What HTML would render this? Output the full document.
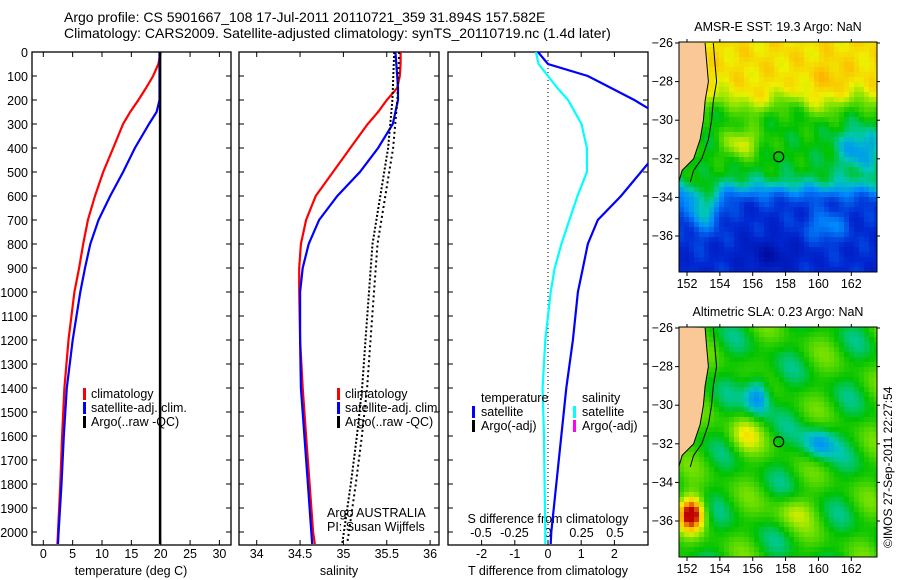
<!DOCTYPE html>
<html><head><meta charset="utf-8">
<style>
html,body{margin:0;padding:0;background:#fff;}
svg{display:block;font-family:"Liberation Sans",sans-serif;}
text{font-size:12.5px;fill:#000;}
</style></head>
<body>
<svg id="fig" width="900" height="580" viewBox="0 0 900 580">
<text x="64" y="22" style="font-size:14px">Argo profile: CS 5901667_108 17-Jul-2011 20110721_359 31.894S 157.582E</text>
<text x="64" y="38" style="font-size:14px">Climatology: CARS2009. Satellite-adjusted climatology: synTS_20110719.nc (1.4d later)</text>
<g id="p1"></g>
<g id="p2"></g>
<g id="p3"></g>
<g id="m1"></g>
<g id="m2"></g>
<text transform="translate(892,548) rotate(-90)" style="font-size:12px">©IMOS 27-Sep-2011 22:27:54</text>
</svg>
<script>
// ---- data ----
const depthTicks = [0,100,200,300,400,500,600,700,800,900,1000,1100,1200,1300,1400,1500,1600,1700,1800,1900,2000];
const tempTicks = [0,5,10,15,20,25,30];
const salTicks = [34,34.5,35,35.5,36];
const salTickLabels = ["34","34.5","35","35.5","36"];
const tdTicks = [-2,-1,0,1,2];
const sdTicks = [-0.5,-0.25,0,0.25,0.5];
const sdTickLabels = ["-0.5","-0.25","0","0.25","0.5"];
const climDepth = [0,50,100,150,200,250,300,400,500,600,700,800,900,1000,1200,1400,1600,1800,2000,2050];
const tempClim = [20,19.6,18.7,17.5,16.2,14.8,13.6,11.9,10.2,8.8,7.6,6.8,6.1,5.3,4.3,3.6,3.2,2.9,2.5,2.4];
const tempSat = [19.8,19.8,19.8,19.8,19.8,19.3,18,15.6,13.6,11.4,9.4,8,7.1,6.3,5,4,3.5,3.1,2.6,2.5];
const salClim = [35.66,35.66,35.65,35.62,35.5,35.4,35.28,35.08,34.88,34.68,34.57,34.51,34.49,34.49,34.5,34.53,34.57,34.61,34.65,34.67];
const salSat = [35.6,35.61,35.62,35.63,35.63,35.6,35.57,35.4,35.19,34.93,34.72,34.6,34.53,34.5,34.5,34.51,34.55,34.59,34.63,34.64];
const argoDepth = [0,200,400,600,800,1000,1200,1400,1600,1800,2000,2050];
const argoTemp = [19.9,19.9,19.9,19.9,19.9,19.9,19.9,19.9,19.9,19.9,19.9,19.9];
const argoSal = [35.62,35.6,35.55,35.46,35.37,35.33,35.29,35.25,35.19,35.12,35.04,35.02];
const tDiff = [-0.3,0.0,1.2,1.9,2.6,3.2,3.6,3.4,2.8,2.2,1.5,1.2,1.05,0.9,0.75,0.55,0.4,0.25,0.1,0.08];
const sDiff = [-0.09,-0.07,0.0,0.07,0.15,0.2,0.25,0.29,0.29,0.22,0.16,0.1,0.05,0.02,-0.02,-0.04,-0.03,-0.025,-0.02,-0.02];
const lonTicks = [152,154,156,158,160,162];
const latTicks = [-26,-28,-30,-32,-34,-36];

const NS="http://www.w3.org/2000/svg";
function mk(parent,tag,attrs){const e=document.createElementNS(NS,tag);for(const k in attrs)e.setAttribute(k,attrs[k]);parent.appendChild(e);return e;}
const yTop=52,yBot=545;
const yD=d=>yTop+d*0.24;
const xT=v=>43.3+v*5.87;
const xS=v=>256.7+(v-34)*86.7;
const xTd=v=>548+v*33.2;
const xSd=v=>548+v*134;

function frame(g,x0,x1){
  const r=mk(g,'rect',{x:x0,y:yTop,width:x1-x0,height:yBot-yTop,fill:'none',stroke:'#000','stroke-width':1.3});
  
  
  depthTicks.forEach(d=>{
    const y=yD(d);
    mk(g,'line',{x1:x0,x2:x0+5,y1:y,y2:y,stroke:'#000'});
    mk(g,'line',{x1:x1,x2:x1-5,y1:y,y2:y,stroke:'#000'});
  });
}
function line(g,xs,ys,color,w,name,dash){
  const pts=xs.map((x,i)=>x.toFixed(1)+','+ys[i].toFixed(1)).join(' ');
  const p=mk(g,'polyline',{points:pts,fill:'none',stroke:color,'stroke-width':w});
  if(dash)p.setAttribute('stroke-dasharray',dash);
  
  
  return p;
}
function txt(g,x,y,s,anchor,name,size){
  const t=mk(g,'text',{x:x,y:y,'text-anchor':anchor||'start'});
  if(size)t.style.fontSize=size+'px';
  t.textContent=s;
  
  
  return t;
}
function legendBar(g,x,y,color){mk(g,'rect',{x:x,y:y-10,width:3,height:12,fill:color});}

// Panel 1
const p1=document.getElementById('p1');
frame(p1,32,231);
depthTicks.forEach(d=>txt(p1,28,yD(d)+5,String(d),'end','depth-tick-label'));
tempTicks.forEach(v=>{const x=xT(v);mk(p1,'line',{x1:x,x2:x,y1:yBot,y2:yBot-5,stroke:'#000'});mk(p1,'line',{x1:x,x2:x,y1:yTop,y2:yTop+5,stroke:'#000'});txt(p1,x,558,String(v),'middle','temperature-tick-label');});
txt(p1,131,575,'temperature (deg C)','middle','temperature-axis-title');
line(p1,tempClim.map(xT),climDepth.map(yD),'#f00',2.2,'temperature-climatology-line');
line(p1,tempSat.map(xT),climDepth.map(yD),'#00f',2.2,'temperature-satellite-line');
line(p1,argoTemp.map(xT),argoDepth.map(yD),'#000',2.5,'temperature-argo-line');
[['#f00','climatology',398],['#00f','satellite-adj. clim.',412],['#000','Argo(..raw -QC)',426]].forEach(l=>{legendBar(p1,83,l[2],l[0]);txt(p1,91,l[2],l[1],'start','legend-entry');});

// Panel 2
const p2=document.getElementById('p2');
frame(p2,239,439);
salTicks.forEach((v,i)=>{const x=xS(v);mk(p2,'line',{x1:x,x2:x,y1:yBot,y2:yBot-5,stroke:'#000'});mk(p2,'line',{x1:x,x2:x,y1:yTop,y2:yTop+5,stroke:'#000'});txt(p2,x,558,salTickLabels[i],'middle','salinity-tick-label');});
txt(p2,339,575,'salinity','middle','salinity-axis-title');
line(p2,salClim.map(xS),climDepth.map(yD),'#f00',2.2,'salinity-climatology-line');
line(p2,salSat.map(xS),climDepth.map(yD),'#00f',2.2,'salinity-satellite-line');
line(p2,argoSal.map(v=>xS(v)-3),argoDepth.map(yD),'#000',2,'salinity-argo-line-a','2,2');
line(p2,argoSal.map(v=>xS(v)+2),argoDepth.map(yD),'#000',2,'salinity-argo-line-b','2,3');
[['#f00','climatology',398],['#00f','satellite-adj. clim.',412],['#000','Argo(..raw -QC)',426]].forEach(l=>{legendBar(p2,337,l[2],l[0]);txt(p2,345,l[2],l[1],'start','legend-entry');});
txt(p2,327,517,'Argo AUSTRALIA','start','institution-label');
txt(p2,327,531,'PI: Susan Wijffels','start','pi-label');

// Panel 3
const p3=document.getElementById('p3');
const cp=mk(document.getElementById('fig'),'clipPath',{id:'c3'});mk(cp,'rect',{x:448,y:yTop,width:200,height:yBot-yTop});
frame(p3,448,648);
mk(p3,'line',{x1:xTd(0),x2:xTd(0),y1:yTop,y2:yBot,stroke:'#000','stroke-dasharray':'1,3'});
tdTicks.forEach(v=>{const x=xTd(v);mk(p3,'line',{x1:x,x2:x,y1:yBot,y2:yBot-5,stroke:'#000'});mk(p3,'line',{x1:x,x2:x,y1:yTop,y2:yTop+5,stroke:'#000'});txt(p3,x,558,String(v),'middle','tdiff-tick-label');});
sdTicks.forEach((v,i)=>{txt(p3,xSd(v),537,sdTickLabels[i],'middle','sdiff-tick-label');});
txt(p3,548,523,'S difference from climatology','middle','sdiff-axis-title');
txt(p3,548,575,'T difference from climatology','middle','tdiff-axis-title');
const g3=mk(p3,'g',{'clip-path':'url(#c3)'});
line(g3,sDiff.map(xSd),climDepth.map(yD),'#0ff',2.2,'salinity-difference-line');
line(g3,tDiff.map(xTd),climDepth.map(yD),'#00f',2.2,'temperature-difference-line');
txt(p3,481,402,'temperature','start','legend-header-temperature');
txt(p3,582,402,'salinity','start','legend-header-salinity');
legendBar(p3,472,416,'#00f');txt(p3,481,416,'satellite','start','legend-entry');
legendBar(p3,472,430,'#000');txt(p3,481,430,'Argo(-adj)','start','legend-entry');
legendBar(p3,573,416,'#0ff');txt(p3,582,416,'satellite','start','legend-entry');
legendBar(p3,573,430,'#f0f');txt(p3,582,430,'Argo(-adj)','start','legend-entry');

// ---- maps ----
const stops=[[0,[0,0,140]],[0.2,[0,40,210]],[0.35,[0,140,255]],[0.45,[0,200,180]],[0.55,[0,195,0]],[0.67,[120,225,0]],[0.77,[240,240,0]],[0.88,[255,175,0]],[1,[190,0,0]]];
function cmap(v){v=Math.max(0,Math.min(1,v));for(let i=1;i<stops.length;i++){if(v<=stops[i][0]){const a=stops[i-1],b=stops[i],t=(v-a[0])/(b[0]-a[0]);return 'rgb('+a[1].map((c,k)=>Math.round(c+(b[1][k]-c)*t)).join(',')+')';}}return 'rgb(190,0,0)';}
const sig=(x)=>1/(1+Math.exp(-x));
const gau=(lon,lat,cx,cy,sx,sy)=>Math.exp(-((lon-cx)**2/sx+(lat-cy)**2/sy));
function sst(lon,lat){
  let v=0.2+0.35*sig((lat+33.6)*3)+0.25*sig((lat+29.2+0.3*Math.sin(lon*1.5))*3);
  v+=0.2*gau(lon,lat,155.3,-31.2,1.2,0.6);
  v-=0.18*gau(lon,lat,162.5,-31.5,2,1.2);
  v+=0.25*gau(lon,lat,153,-34.5,1,1.5);
  v+=0.15*gau(lon,lat,160.5,-35.5,1.5,0.6);
  v-=0.1*gau(lon,lat,157,-37,3,0.6);
  v+=0.05*gau(lon,lat,160.8,-27.8,1,0.6);
  v+=0.04*Math.sin(lon*3.1+lat*1.3)*Math.cos(lat*2.3-lon*0.7);
  return v;
}
function sla(lon,lat){
  let v=0.57+0.1*Math.sin(lon*1.3+lat*0.9)*Math.cos(lat*1.1-lon*0.4);
  v+=0.45*gau(lon,lat,152.3,-35.6,0.6,0.8);
  v-=0.25*gau(lon,lat,156.3,-29.5,0.6,1.2);
  v-=0.2*gau(lon,lat,160,-32,1,0.8);
  v+=0.15*gau(lon,lat,155.5,-31.5,1,1);
  v+=0.12*gau(lon,lat,158.5,-35.5,1.5,0.6);
  return v;
}
const coastLat=[-26,-27,-28,-29,-30,-31,-32,-32.6,-33.2];
const coastLon=[153.1,153.2,153.3,153.1,153.0,152.8,152.4,151.7,151.5];
function drawMap(id,y0,title,fn){
  const g=document.getElementById(id);
  const x0=679,w=198,h=230;
  const lonX=l=>687+(l-152)*16.43;
  const latY=l=>y0+1+(-26-l)*19.3;
  const xLon=x=>152+(x-687)/16.43;
  const yLat=y=>-26-(y-y0-1)/19.3;
  const cs=5;
  for(let y=y0;y<y0+h;y+=cs){for(let x=x0;x<x0+w;x+=cs){
    const lon=xLon(x+cs/2),lat=yLat(y+cs/2);
    mk(g,'rect',{x:x,y:y,width:Math.min(cs,x0+w-x)+0.3,height:Math.min(cs,y0+h-y)+0.3,fill:cmap(fn(lon,lat))});
  }}
  let pts=[x0+','+y0];
  coastLat.forEach((la,i)=>pts.push(lonX(coastLon[i]).toFixed(1)+','+latY(la).toFixed(1)));
  pts.push(x0+','+latY(-33.3).toFixed(1));
  const land=mk(g,'polygon',{points:pts.join(' '),fill:'#f9c896',stroke:'none'});
  
  
  line(g,coastLon.map(lonX),coastLat.map(latY),'#000',1,'coastline');
  line(g,coastLat.map((la,i)=>lonX(coastLon[i]+0.5+(la<-32?0.2:0))),coastLat.map(latY),'#000',1,'isobath-line');
  mk(g,'circle',{cx:lonX(157.58),cy:latY(-31.894),r:5,fill:'none',stroke:'#000','stroke-width':1.2});
  mk(g,'rect',{x:x0,y:y0,width:w,height:h,fill:'none',stroke:'#000','stroke-width':1});
  lonTicks.forEach(l=>{const x=lonX(l);mk(g,'line',{x1:x,x2:x,y1:y0+h,y2:y0+h+4,stroke:'#000'});mk(g,'line',{x1:x,x2:x,y1:y0,y2:y0-3,stroke:'#000'});txt(g,x,y0+h+16,String(l),'middle','longitude-tick-label');});
  latTicks.forEach(l=>{const y=latY(l);mk(g,'line',{x1:x0,x2:x0-4,y1:y,y2:y,stroke:'#000'});mk(g,'line',{x1:x0+w,x2:x0+w+3,y1:y,y2:y,stroke:'#000'});txt(g,x0-6,y+4,String(l).replace('-','\u2212'),'end','latitude-tick-label');});
  txt(g,x0+w/2,y0-11,title,'middle','map-title');
}
drawMap('m1',42,'AMSR-E SST: 19.3 Argo: NaN',sst);
drawMap('m2',327,'Altimetric SLA: 0.23 Argo: NaN',sla);
</script>
</body></html>
